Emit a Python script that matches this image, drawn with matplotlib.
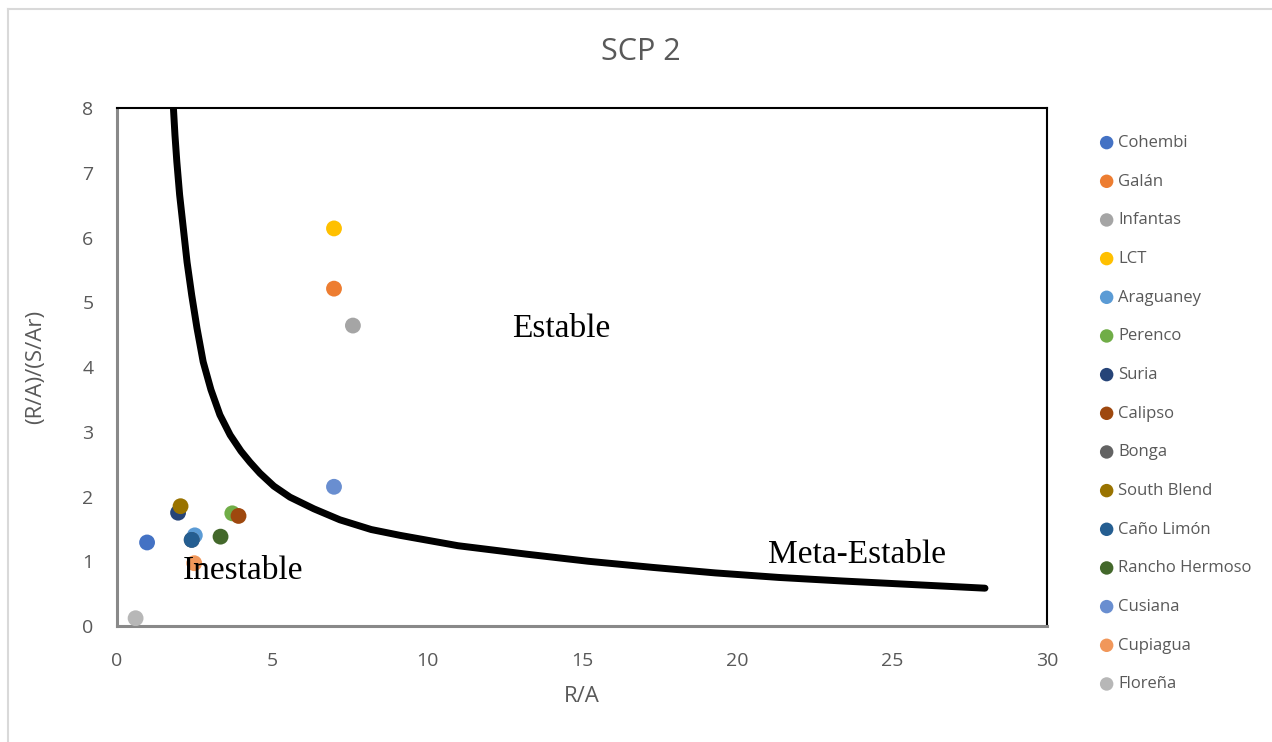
import matplotlib
matplotlib.use('Agg')
import matplotlib.pyplot as plt
from matplotlib.lines import Line2D

# Datos de los crudos (R/A, (R/A)/(S/Ar))
nombres = ['Cohembi', 'Galán', 'Infantas', 'LCT', 'Araguaney', 'Perenco', 'Suria',
           'Calipso', 'Bonga', 'South Blend', 'Caño Limón', 'Rancho Hermoso',
           'Cusiana', 'Cupiagua', 'Floreña']
ra = [0.97, 7.00, 7.61, 7.00, 2.51, 3.72, 1.97, 3.92, 2.41, 2.05, 2.41, 3.34, 7.00, 2.49, 0.60]
ra_sar = [1.29, 5.21, 4.64, 6.14, 1.40, 1.74, 1.75, 1.70, 1.33, 1.85, 1.33, 1.38, 2.15, 0.97, 0.12]
colores = ['#4472C4', '#ED7D31', '#A5A5A5', '#FFC000', '#5B9BD5', '#70AD47', '#264478',
           '#9E480E', '#636363', '#997300', '#255E91', '#43682B', '#698ED0', '#F1975A', '#B7B7B7']

# Curva limite de estabilidad
curva_x = [1.82, 1.87, 1.93, 2.02, 2.14, 2.26, 2.41, 2.58, 2.78, 3.03, 3.32, 3.65, 4.0, 4.29,
           4.61, 5.06, 5.58, 6.35, 7.19, 8.2, 9.13, 11.0, 13.2, 15.2, 17.28, 19.3, 21.35,
           23.4, 25.42, 28.0]
curva_y = [8.0, 7.58, 7.17, 6.66, 6.14, 5.62, 5.11, 4.60, 4.08, 3.65, 3.26, 2.95, 2.70, 2.53,
           2.36, 2.16, 1.99, 1.81, 1.64, 1.49, 1.40, 1.24, 1.11, 1.0, 0.905, 0.82, 0.75,
           0.695, 0.646, 0.584]

W, H = 1272, 742
fig = plt.figure(figsize=(W / 100, H / 100), dpi=100)
ax = fig.add_axes([117 / W, 1 - 626 / H, 930 / W, 518 / H])

ax.plot(curva_x, curva_y, color='black', lw=5, solid_capstyle='round',
        solid_joinstyle='round', zorder=2)
for n, x, y, c in zip(nombres, ra, ra_sar, colores):
    ax.scatter(x, y, s=130, color=c, label=n, zorder=3, edgecolors='none')

ax.set_xlim(0, 30)
ax.set_ylim(0, 8)
ax.set_xticks(range(0, 31, 5))
ax.set_yticks(range(0, 9))
ax.tick_params(length=0, labelsize=14, labelcolor='#595959')
ax.tick_params(axis='x', pad=19)
ax.tick_params(axis='y', pad=17)
for lab in ax.get_xticklabels() + ax.get_yticklabels():
    lab.set_fontfamily('Open Sans')

for s in ['top', 'right']:
    ax.spines[s].set_color('black')
    ax.spines[s].set_linewidth(1.5)
for s in ['left', 'bottom']:
    ax.spines[s].set_color('#898989')
    ax.spines[s].set_linewidth(2.2)

fig.text(641 / W, 1 - 52 / H, 'SCP 2', fontsize=22, color='#595959', family='Open Sans',
         ha='center', va='center')
ax.set_xlabel('R/A', fontsize=16, color='#595959', family='Open Sans', labelpad=11)
ax.set_ylabel('(R/A)/(S/Ar)', fontsize=16, color='#595959', family='Open Sans', labelpad=26)

ax.text(14.32, 4.59, 'Estable', fontsize=24, family='Liberation Serif', ha='center', va='center', zorder=4)
ax.text(2.13, 0.85, 'Inestable', fontsize=24, family='Liberation Serif', ha='left', va='center', zorder=4)
ax.text(21.0, 1.10, 'Meta-Estable', fontsize=24, family='Liberation Serif', ha='left', va='center', zorder=4)

leg = ax.legend(loc='upper left', bbox_to_anchor=(1090 / W, 1 - 135 / H),
                bbox_transform=fig.transFigure, frameon=False, fontsize=12,
                labelspacing=1.36, handletextpad=-0.3, borderpad=0, borderaxespad=0,
                scatterpoints=1, markerscale=0.85)
for t in leg.get_texts():
    t.set_color('#595959')
    t.set_fontfamily('Open Sans')

# marco exterior del grafico
fig.add_artist(Line2D([8 / W, 8 / W], [0, 1 - 9 / H], transform=fig.transFigure, color='#D9D9D9', lw=1.5))
fig.add_artist(Line2D([8 / W, 1], [1 - 9 / H, 1 - 9 / H], transform=fig.transFigure, color='#D9D9D9', lw=1.5))

fig.savefig('out.png', dpi=100)
